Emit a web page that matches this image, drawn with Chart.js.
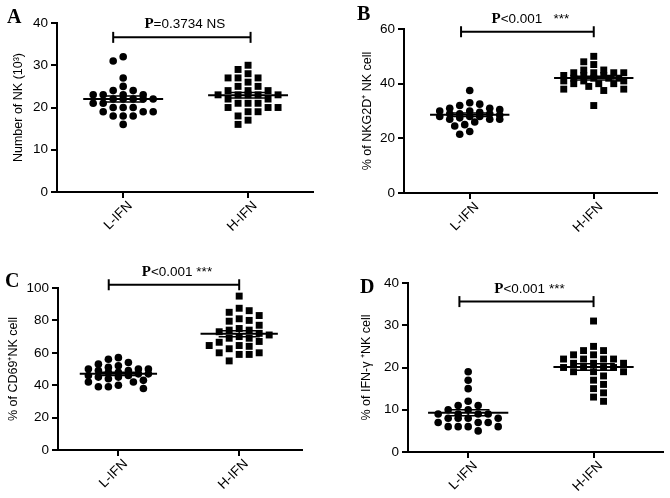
<!DOCTYPE html>
<html><head><meta charset="utf-8">
<script src="https://cdn.jsdelivr.net/npm/chart.js@4/dist/chart.umd.min.js"></script>
<style>
html,body{margin:0;padding:0;background:#fff;}
#wrap{position:relative;width:670px;height:498px;overflow:hidden;background:#fff;}
.pn{position:absolute;}
.lbl{position:absolute;font-family:"Liberation Serif","Times New Roman",serif;font-weight:bold;font-size:20px;line-height:20px;color:#000;}
</style></head><body>
<div id="wrap">
  <div class="pn" style="left:0;top:0;width:335px;height:250px"><canvas id="cA"></canvas></div>
  <div class="pn" style="left:335px;top:0;width:335px;height:250px"><canvas id="cB"></canvas></div>
  <div class="pn" style="left:0;top:250px;width:335px;height:248px"><canvas id="cC"></canvas></div>
  <div class="pn" style="left:335px;top:250px;width:335px;height:248px"><canvas id="cD"></canvas></div>
  <div class="lbl" style="left:7px;top:6px">A</div>
  <div class="lbl" style="left:357px;top:3px">B</div>
  <div class="lbl" style="left:5px;top:270px">C</div>
  <div class="lbl" style="left:360px;top:276px">D</div>
</div>
<script>
// ---- data ----
const categories = ['L-IFN', 'H-IFN'];
// A: Number of NK (10^3)
const nkCountL = [32,31,27,25,24,24,23,23,23,23,22,22,22,22,22,21,21,20,20,20,19,19,19,18,18,18,16];
const nkCountH = [30,29,28,27,27,27,26,25,25,24,24,24,23,23,23,23,23,22,22,21,21,21,20,20,20,19,19,18,17,16];
// B: % of NKG2D+ NK cell
const nkg2dL = [37.5,33,32.5,32,31,31,30.5,30,30,29.5,29,29,29,28.5,28,28,28,27.5,27,27,27,26,25,24.5,22.5,21.5];
const nkg2dH = [50,48,47,45,45,44,44,44,44,43,43,43,42,42,42,42,41,41,41,40,40,40,39,38,38,37.5,32];
// C: % of CD69+ NK cell
const cd69L = [57,56,54,53,52,51,50,50,50,49,49,48,48,47,47,46,46,45,45,44,43,42,42,40,39,39,38];
const cd69H = [95,87.5,86,85,83,81,80,79.5,77,75,74,74,73,72,71,70,69,69,67,66.5,64.5,64.5,64,62.5,60,60,59,59,55];
// D: % of IFN-gamma+ NK cell
const ifngL = [19,17,15,12,11,11,10,10,9,9,9,9,8,8,8,8,7,7,7,6,6,6,6,5];
const ifngH = [31,25,24,24,23,23,22,22,22,22,21,21,21,20,20,20,20,19,19,19,18,17,16,15,14,13,12];
// axis ticks
const ticksA = [0,10,20,30,40];
const ticksB = [0,20,40,60];
const ticksC = [0,20,40,60,80,100];
const ticksD = [0,10,20,30,40];
// significance labels
const sigA = ['P', '=0.3734 NS'];
const sigB = ['P', '<0.001   ***'];
const sigC = ['P', '<0.001 ***'];
const sigD = ['P', '<0.001 ***'];
const titleA = 'Number of NK (10\u00B3)';
const titleB = '% of NKG2D\u207A NK cell';
const titleC = '% of CD69\u207ANK cell';
const titleD = '% of IFN-\u03B3 \u207ANK cell';

// ---- helpers ----
const SANS = '"Liberation Sans", Arial, sans-serif';
const SERIF = '"Liberation Serif", "Times New Roman", serif';
function mean(a){ return a.reduce((s,v)=>s+v,0)/a.length; }
function sem(a){ const m=mean(a); const sd=Math.sqrt(a.reduce((s,v)=>s+(v-m)*(v-m),0)/(a.length-1)); return sd/Math.sqrt(a.length); }

// column-scatter layout: greedy collision avoidance with a capped width (overlap allowed when full)
function swarm(values, ys, spacing, dyLim, maxOff){
  const order = values.map((v,i)=>i).sort((a,b)=>values[b]-values[a]);
  const cands = [0];
  for (let s=spacing/2; s<=maxOff+0.01; s+=spacing/2) cands.push(s, -s);
  const placed = [];
  const off = new Array(values.length).fill(0);
  let flip = 1;
  for (const i of order){
    const py = ys.getPixelForValue(values[i]);
    let best = 0, bestScore = Infinity;
    for (const c0 of cands){
      const c = c0*flip;
      let score = 0;
      for (const p of placed){
        const e = ((p.x-c)/spacing)**2 + ((p.y-py)/dyLim)**2;
        if (e < 1) score += 1-e;
      }
      if (score === 0){ best = c; bestScore = 0; break; }
      if (score < bestScore - 1e-9){ bestScore = score; best = c; }
    }
    off[i] = best; placed.push({x:best, y:py}); flip = -flip;
  }
  return off;
}

const sigPlugin = {
  id: 'sigLabel',
  afterDraw(chart, args, opts){
    const xs = chart.scales.x, ys = chart.scales.y, ctx = chart.ctx;
    const cx = (xs.getPixelForValue(opts.x0)+xs.getPixelForValue(opts.x1))/2 + 3;
    const by = ys.getPixelForValue(opts.y) - opts.gap;
    ctx.save();
    ctx.fillStyle = '#000';
    ctx.textBaseline = 'alphabetic';
    const f1 = 'bold 15px ' + SERIF, f2 = '13.5px ' + SANS;
    ctx.font = f1; const w1 = ctx.measureText(opts.text[0]).width;
    ctx.font = f2; const w2 = ctx.measureText(opts.text[1]).width;
    let x = cx - (w1+w2)/2;
    ctx.textAlign = 'left';
    ctx.font = f1; ctx.fillText(opts.text[0], x, by);
    ctx.font = f2; ctx.fillText(opts.text[1], x+w1, by);
    ctx.restore();
  }
};

function makePanel(p){
  const mL = mean(p.L), mH = mean(p.H), sL = sem(p.L), sH = sem(p.H);
  const MW = 0.32, SW = 0.17;
  const semLine = (c,m,s)=>[{x:c-SW,y:m+s},{x:c+SW,y:m+s},{x:c,y:null},{x:c,y:m+s},{x:c,y:m-s},{x:c,y:null},{x:c-SW,y:m-s},{x:c+SW,y:m-s}];
  const lineDs = (data,w)=>({type:'scatter',data, showLine:true, borderColor:'#000', borderWidth:w, pointRadius:0, spanGaps:false, clip:false, order:0});
  const cfg = {
    type: 'scatter',
    data: { datasets: [
      {data: p.L.map(v=>({x:1,y:v})), pointStyle:'circle', pointRadius:3.8, backgroundColor:'#000', borderColor:'#000', borderWidth:0, order:2, clip:false},
      {data: p.H.map(v=>({x:2,y:v})), pointStyle:'rect', pointRadius:4.9, backgroundColor:'#000', borderColor:'#000', borderWidth:0, order:2, clip:false},
      lineDs([{x:1-MW,y:mL},{x:1+MW,y:mL}],2),
      lineDs([{x:2-MW,y:mH},{x:2+MW,y:mH}],2),
      lineDs(semLine(1,mL,sL),1.5),
      lineDs(semLine(2,mH,sH),1.5),
      {type:'scatter', data:[{x:p.bx0,y:p.by},{x:p.bx1,y:p.by}], showLine:true, borderColor:'#000', borderWidth:2,
       pointStyle:'line', pointRotation:90, pointRadius:5.5, pointBorderWidth:2, pointBorderColor:'#000', clip:false, order:0}
    ]},
    options: {
      responsive:true, maintainAspectRatio:false, animation:false, events:[],
      layout:{padding:{left:0, top:p.area.top, right:p.area.right, bottom:0}},
      plugins:{legend:{display:false}, tooltip:{enabled:false},
        sigLabel:{x0:p.bx0, x1:p.bx1, y:p.by, gap:9, text:p.sig}},
      scales:{
        x:{type:'linear', min:p.xMin, max:p.xMax,
          afterFit:(s)=>{ s.height = p.area.bottom; },
          afterBuildTicks:(s)=>{ s.ticks = categories.map((c,i)=>({value:i+1})); },
          ticks:{callback:(v)=>categories[Math.round(v)-1], minRotation:45, maxRotation:45, autoSkip:false,
            color:'#000', font:{family:SANS, size:13.5}, padding:0, labelOffset:7},
          grid:{display:true, drawOnChartArea:false, drawTicks:true, tickLength:6, color:'#000', lineWidth:2},
          border:{display:true, color:'#000', width:2}
        },
        y:{type:'linear', min:0, max:p.yMax,
          afterFit:(s)=>{ s.width = p.area.left; },
          afterBuildTicks:(s)=>{ s.ticks = p.ticks.map(v=>({value:v})); },
          ticks:{color:'#000', font:{family:SANS, size:13.5}, padding:3},
          grid:{display:true, drawOnChartArea:false, drawTicks:true, tickLength:6, color:'#000', lineWidth:2},
          border:{display:true, color:'#000', width:2},
          title:{display:true, text:p.title, color:'#000', font:{family:SANS, size:12.5}, padding:{top:p.titlePad, bottom:0}}
        }
      }
    },
    plugins:[sigPlugin]
  };
  const chart = new Chart(document.getElementById(p.id), cfg);
  // column scatter layout computed with the library's scales
  const xs = chart.scales.x, ys = chart.scales.y;
  const unit = 1/(xs.getPixelForValue(2)-xs.getPixelForValue(1));
  const oL = swarm(p.L, ys, 10, 7.5, 32), oH = swarm(p.H, ys, 10, 7.5, 32);
  chart.data.datasets[0].data = p.L.map((v,i)=>({x:1+oL[i]*unit, y:v}));
  chart.data.datasets[1].data = p.H.map((v,i)=>({x:2+oH[i]*unit, y:v}));
  chart.update('none');
  return chart;
}

const panels = [
  {id:'cA', L:nkCountL, H:nkCountH, yMax:40, ticks:ticksA, title:titleA, xMin:0.47, xMax:2.52,
   area:{left:57, top:23, right:22, bottom:58}, titlePad:11, bx0:0.92, bx1:2.02, by:36.6, sig:sigA},
  {id:'cB', L:nkg2dL, H:nkg2dH, yMax:60, ticks:ticksB, title:titleB, xMin:0.47, xMax:2.51,
   area:{left:69, top:29, right:13, bottom:57}, titlePad:25, bx0:0.93, bx1:2.0, by:59, sig:sigB},
  {id:'cC', L:cd69L, H:cd69H, yMax:100, ticks:ticksC, title:titleC, xMin:0.5, xMax:2.52,
   area:{left:58, top:38, right:33, bottom:48}, titlePad:6.5, bx0:0.92, bx1:2.0, by:102, sig:sigC},
  {id:'cD', L:ifngL, H:ifngH, yMax:40, ticks:ticksD, title:titleD, xMin:0.52, xMax:2.55,
   area:{left:73, top:33, right:2, bottom:46}, titlePad:24.5, bx0:0.93, bx1:2.0, by:35.6, sig:sigD}
];
panels.forEach(makePanel);
</script>
</body></html>
